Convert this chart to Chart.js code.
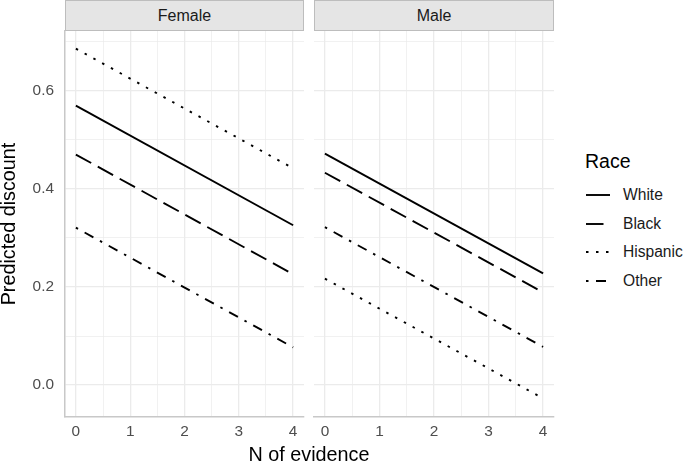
<!DOCTYPE html>
<html>
<head>
<meta charset="utf-8">
<title>Predicted discount by N of evidence</title>
<script src="https://cdn.jsdelivr.net/npm/chart.js@4.4.1/dist/chart.umd.min.js"></script>
<style>
  body { margin: 0; background: #fff; font-family: "Liberation Sans", Arial, sans-serif; }
  #page { position: relative; width: 685px; height: 465px; overflow: hidden; background: #fff; }
  canvas { position: absolute; top: 0; }
  .strip {
    position: absolute; top: 0; height: 31px; box-sizing: border-box;
    background: #e5e5e5; border: 1px solid #bdbdbd;
    text-align: center; font-size: 16px; line-height: 29px; color: #1a1a1a;
  }
  #x-title { position: absolute; left: 209px; width: 200px; top: 444px; text-align: center; font-size: 19.8px; line-height: 21px; color: #000; }
  #legend-title { position: absolute; left: 585px; top: 151px; font-size: 19.5px; line-height: 21px; color: #000; }
  .legend-item { position: absolute; left: 586px; height: 18px; }
  .legend-item svg { position: absolute; left: 0; top: 0; }
  .legend-item span { position: absolute; left: 37px; top: 0; font-size: 15.6px; line-height: 18px; color: #1a1a1a; white-space: nowrap; }
</style>
</head>
<body>
<div id="page">
  <canvas id="femaleChart" width="306" height="465" style="left:0px"></canvas>
  <canvas id="maleChart" width="247" height="465" style="left:309px"></canvas>
  <div class="strip" style="left:65px; width:239px;">Female</div>
  <div class="strip" style="left:314px; width:240px;">Male</div>
  <div id="x-title">N of evidence</div>
  <div id="legend-title">Race</div>
  <div id="legend"></div>
</div>
<script>
// Values
const evidence = [0, 4];
const races = ['White', 'Black', 'Hispanic', 'Other'];

const femaleWhite = [0.570, 0.326];
const femaleBlack = [0.470, 0.226];
const femaleHispanic = [0.686, 0.442];
const femaleOther = [0.321, 0.077];

const maleWhite = [0.472, 0.228];
const maleBlack = [0.433, 0.189];
const maleHispanic = [0.217, -0.027];
const maleOther = [0.322, 0.078];

const xMajorTicks = [0, 1, 2, 3, 4];
const xMinorTicks = [0.5, 1.5, 2.5, 3.5];
const yMajorTicks = [0.0, 0.2, 0.4, 0.6];
const yMinorTicks = [0.1, 0.3, 0.5, 0.7];

// ggplot style line types
const raceDash = {
    White: [],
    Black: [17.5, 7.5],
    Hispanic: [2.5, 7.5],
    Other: [2.5, 7.5, 10, 7.5]
};
const LINE_WIDTH = 1.9;

Chart.defaults.font.family = '"Liberation Sans", Arial, sans-serif';

document.addEventListener('DOMContentLoaded', function() {
    makePanel('femaleChart', [femaleWhite, femaleBlack, femaleHispanic, femaleOther], true);
    makePanel('maleChart', [maleWhite, maleBlack, maleHispanic, maleOther], false);
    buildLegend();
});

function buildDatasets(series) {
    return races.map((race, i) => ({
        label: race,
        data: evidence.map((x, j) => ({ x: x, y: series[i][j] })),
        borderColor: '#000000',
        borderWidth: LINE_WIDTH,
        borderDash: raceDash[race],
        borderCapStyle: 'butt',
        pointRadius: 0,
        tension: 0,
        fill: false
    }));
}

function sortedTicks(major, minor) {
    return major.concat(minor).sort((a, b) => a - b).map(v => ({ value: v }));
}

function isMajor(list, v) {
    return list.some(m => Math.abs(m - v) < 1e-9);
}

function makePanel(id, series, showYAxis) {
    const ctx = document.getElementById(id);

    new Chart(ctx, {
        type: 'line',
        data: { datasets: buildDatasets(series) },
        options: {
            responsive: false,
            animation: false,
            layout: { padding: { top: 31, right: 2, left: 0, bottom: 0 } },
            plugins: {
                legend: { display: false },
                tooltip: { enabled: false }
            },
            scales: {
                x: {
                    type: 'linear',
                    min: -0.2,
                    max: 4.2,
                    afterBuildTicks: scale => { scale.ticks = sortedTicks(xMajorTicks, xMinorTicks); },
                    afterFit: scale => { scale.height = 48; },
                    grid: {
                        color: '#ebebeb',
                        lineWidth: c => (c.tick && isMajor(xMajorTicks, c.tick.value)) ? 1.3 : 0.7,
                        drawTicks: false
                    },
                    border: { display: true, color: '#c8c8c8', width: 1.5 },
                    ticks: {
                        padding: 6,
                        color: '#4d4d4d',
                        font: { size: 15.4 },
                        maxRotation: 0,
                        autoSkip: false,
                        callback: v => isMajor(xMajorTicks, v) ? String(v) : ''
                    }
                },
                y: {
                    min: -0.065,
                    max: 0.722,
                    afterBuildTicks: scale => { scale.ticks = sortedTicks(yMajorTicks, yMinorTicks); },
                    afterFit: scale => { scale.width = showYAxis ? 65 : 5; },
                    grid: {
                        color: '#ebebeb',
                        lineWidth: c => (c.tick && isMajor(yMajorTicks, c.tick.value)) ? 1.3 : 0.7,
                        drawTicks: false
                    },
                    border: { display: showYAxis, color: '#c8c8c8', width: 1.5 },
                    ticks: {
                        display: showYAxis,
                        padding: 11,
                        color: '#4d4d4d',
                        font: { size: 15.4 },
                        autoSkip: false,
                        callback: v => isMajor(yMajorTicks, v) ? v.toFixed(1) : ''
                    },
                    title: {
                        display: showYAxis,
                        text: 'Predicted discount',
                        color: '#000000',
                        font: { size: 19.8, lineHeight: 1.0 },
                        padding: { top: 0, bottom: 0 }
                    }
                }
            }
        }
    });
}

function buildLegend() {
    const legend = document.getElementById('legend');
    const firstY = 195;
    const step = 28.7;

    legend.innerHTML = races.map((race, i) => {
        const top = firstY + i * step - 9;
        const dash = raceDash[race].length ? raceDash[race].join(' ') : 'none';
        return `
        <div class="legend-item" style="top:${top}px">
            <svg width="24" height="18">
                <line x1="0" y1="9" x2="24" y2="9" stroke="#000" stroke-width="${LINE_WIDTH}"
                      stroke-dasharray="${dash}" stroke-linecap="butt"></line>
            </svg>
            <span>${race}</span>
        </div>`;
    }).join('');
}
</script>
</body>
</html>
